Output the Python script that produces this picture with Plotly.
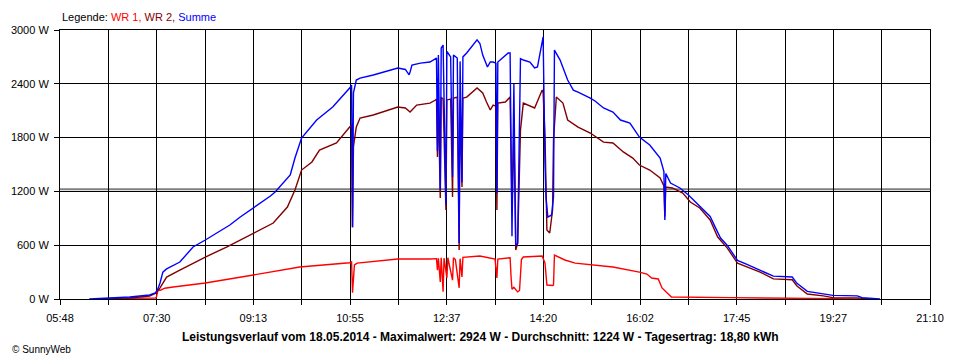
import plotly.graph_objects as go

# ---------------- data ----------------
x_tick_labels = ["05:48", "07:30", "09:13", "10:55", "12:37", "14:20", "16:02", "17:45", "19:27", "21:10"]
y_tick_values = [0, 600, 1200, 1800, 2400, 3000]
avg_power = 1224  # Durchschnitt

t_wr1 = ["06:57", "07:02", "07:29", "07:30", "07:31", "07:32", "07:34", "07:39", "07:48", "08:22",
         "09:13", "10:02", "10:55", "10:57", "10:58", "11:00", "11:03", "11:46", "12:20", "12:27",
         "12:28", "12:29", "12:31", "12:32", "12:34", "12:35", "12:38", "12:39", "12:44", "12:45",
         "12:47", "12:51", "12:52", "12:54", "12:55", "12:59", "13:13", "13:29", "13:31", "13:32",
         "13:43", "13:45", "13:46", "13:47", "13:49", "13:51", "13:53", "13:55", "13:57", "13:59",
         "14:19", "14:22", "14:24", "14:30", "14:31", "14:32", "14:43", "14:54", "15:15", "15:34",
         "16:02", "16:10", "16:15", "16:22", "16:26", "16:31", "16:36", "17:38", "18:55", "18:57",
         "19:56"]
p_wr1 = [0, 8, 10, 15, 60, 110, 95, 120, 134, 178,
         268, 357, 405, 415, 70, 380, 400, 446, 446, 450,
         320, 455, 190, 460, 80, 455, 235, 460, 210, 460,
         440, 125, 450, 245, 465, 470, 480, 446, 234, 446,
         457, 460, 250, 110, 130, 100, 80, 95, 440, 468,
         480, 400, 156, 150, 156, 490, 435, 400, 380, 357,
         300, 278, 234, 223, 123, 67, 22, 15, 11, 3,
         0]

t_wr2 = ["06:30", "07:02", "07:23", "07:30", "07:34", "07:41", "07:55", "08:09", "08:22", "08:45",
         "08:59", "09:13", "09:34", "09:49", "09:57", "10:04", "10:15", "10:23", "10:41", "10:55",
         "10:57", "10:58", "10:59", "11:02", "11:06", "11:20", "11:38", "11:46", "11:54", "11:59",
         "12:06", "12:20", "12:26", "12:27", "12:28", "12:29", "12:31", "12:32", "12:34", "12:37",
         "12:38", "12:42", "12:44", "12:45", "12:49", "12:51", "12:52", "12:54", "12:55", "12:59",
         "13:10", "13:16", "13:20", "13:24", "13:27", "13:30", "13:31", "13:32", "13:40", "13:45",
         "13:47", "13:49", "13:51", "13:53", "13:56", "13:59", "14:11", "14:19", "14:20", "14:22",
         "14:24", "14:27", "14:30", "14:31", "14:34", "14:41", "14:46", "14:57", "15:10", "15:15",
         "15:24", "15:34", "15:45", "15:55", "16:02", "16:13", "16:24", "16:28", "16:29", "16:30",
         "16:37", "16:48", "16:56", "17:06", "17:17", "17:25", "17:35", "17:46", "17:56", "18:10",
         "18:24", "18:44", "18:49", "19:00", "19:17", "19:27", "19:53", "20:06"]
p_wr2 = [0, 11, 33, 67, 123, 245, 323, 400, 468, 580,
         658, 736, 847, 1026, 1215, 1438, 1528, 1661, 1740, 1918,
         1940, 800, 1700, 1918, 2018, 2052, 2108, 2141, 2130, 2085,
         2163, 2185, 2219, 2230, 1584, 2200, 1126, 2250, 2230, 992,
         2220, 2230, 1137, 2240, 2250, 546, 2220, 1249, 2240, 2252,
         2353, 2297, 2197, 2108, 2163, 2150, 992, 2185, 2197, 2252,
         959, 1900, 546, 624, 1884, 2185, 2130, 2330, 2300, 1806,
         770, 736, 992, 1773, 2252, 2185, 1996, 1918, 1851, 1818,
         1750, 1740, 1640, 1572, 1494, 1438, 1349, 1260, 920, 1249,
         1238, 1182, 1082, 1015, 881, 691, 570, 400, 355, 300,
         225, 215, 145, 55, 35, 15, 12, 0]

t_sum = ["06:19", "06:39", "07:02", "07:23", "07:29", "07:32", "07:34", "07:37", "07:41", "07:55",
         "08:09", "08:22", "08:48", "08:59", "09:13", "09:31", "09:36", "09:49", "09:52", "09:57",
         "10:04", "10:20", "10:37", "10:55", "10:57", "10:58", "10:59", "11:02", "11:06", "11:20",
         "11:38", "11:46", "11:54", "11:58", "11:59", "12:01", "12:10", "12:20", "12:27", "12:28",
         "12:29", "12:31", "12:32", "12:34", "12:37", "12:38", "12:42", "12:44", "12:45", "12:49",
         "12:51", "12:52", "12:54", "12:55", "12:59", "13:10", "13:13", "13:16", "13:21", "13:24",
         "13:27", "13:30", "13:31", "13:32", "13:43", "13:45", "13:47", "13:49", "13:51", "13:53",
         "13:56", "13:59", "14:06", "14:11", "14:14", "14:20", "14:22", "14:23", "14:25", "14:29",
         "14:31", "14:32", "14:38", "14:46", "14:52", "14:57", "15:10", "15:15", "15:24", "15:34",
         "15:42", "15:52", "16:02", "16:13", "16:24", "16:28", "16:29", "16:30", "16:35", "16:45",
         "16:54", "17:06", "17:17", "17:22", "17:28", "17:35", "17:46", "17:56", "18:10", "18:24",
         "18:44", "18:49", "19:00", "19:17", "19:27", "19:53", "19:58", "20:17"]
p_sum = [0, 11, 22, 45, 67, 120, 178, 300, 335, 412,
         580, 658, 825, 914, 1015, 1148, 1193, 1349, 1383, 1572,
         1795, 1996, 2141, 2353, 2386, 800, 2300, 2442, 2464, 2498,
         2553, 2576, 2560, 2500, 2531, 2609, 2631, 2643, 2687, 1650,
         2720, 1215, 2800, 2832, 1050, 2760, 2700, 1360, 2720, 2687,
         624, 2650, 1300, 2700, 2743, 2890, 2850, 2720, 2587, 2643,
         2643, 2630, 1180, 2643, 2743, 2743, 700, 2400, 600, 620,
         2680, 2665, 2643, 2576, 2587, 2924, 1516, 1137, 914, 937,
         1137, 2776, 2665, 2442, 2330, 2308, 2241, 2208, 2130, 2085,
         1996, 1962, 1806, 1717, 1572, 1420, 880, 1400, 1293, 1238,
         1160, 1040, 920, 810, 680, 600, 430, 385, 320, 255,
         245, 175, 85, 60, 40, 35, 15, 0]


def to_min(s):
    h, m = s.split(":")
    return int(h) * 60 + int(m)


x_start = to_min(x_tick_labels[0])
x_end = to_min(x_tick_labels[-1])
n_grid = (len(x_tick_labels) - 1) * 2
tick_pos = [x_start + (x_end - x_start) * k / n_grid for k in range(n_grid + 1)]
tick_txt = [x_tick_labels[k // 2] if k % 2 == 0 else "" for k in range(n_grid + 1)]

fig = go.Figure()
fig.add_trace(go.Scatter(x=[to_min(t) for t in t_wr1], y=p_wr1, mode="lines",
                         line=dict(color="#FF0000", width=1.4), name="WR 1"))
fig.add_trace(go.Scatter(x=[to_min(t) for t in t_wr2], y=p_wr2, mode="lines",
                         line=dict(color="#800000", width=1.4), name="WR 2"))
fig.add_trace(go.Scatter(x=[to_min(t) for t in t_sum], y=p_sum, mode="lines",
                         line=dict(color="#0000FF", width=1.4), name="Summe"))

fig.add_shape(type="line", xref="paper", x0=0, x1=1, yref="y", y0=avg_power, y1=avg_power,
              line=dict(color="#808080", width=2), layer="between")

font_family = "Liberation Sans, Arial, sans-serif"

# page body has an 8px default margin: figure is sized/offset to compensate
fig.update_layout(
    width=952, height=352,
    margin=dict(l=52, r=30, t=22, b=61, autoexpand=False),
    paper_bgcolor="white", plot_bgcolor="white",
    showlegend=False, hovermode=False,
    font=dict(family=font_family, size=11, color="black"),
    xaxis=dict(range=[x_start, x_end], tickmode="array", tickvals=tick_pos, ticktext=tick_txt,
               showgrid=True, gridcolor="black", gridwidth=1,
               showline=True, linecolor="black", linewidth=1, mirror=True,
               ticks="outside", ticklen=5, tickcolor="black", tickwidth=1,
               ticklabelstandoff=4, automargin=False,
               zeroline=False, tickfont=dict(size=11)),
    yaxis=dict(range=[0, 3000], tickmode="array", tickvals=y_tick_values,
               ticktext=[f"{v} W" for v in y_tick_values],
               showgrid=True, gridcolor="black", gridwidth=1,
               showline=True, linecolor="black", linewidth=1, mirror=True,
               ticks="outside", ticklen=5, tickcolor="black", tickwidth=1,
               ticklabelstandoff=3, automargin=False,
               zeroline=False, tickfont=dict(size=11)),
)

fig.add_annotation(
    xref="paper", yref="paper", x=0.0, y=1.048, xanchor="left", yanchor="middle", showarrow=False,
    text=("Legende: <span style='color:#FF0000'>WR 1,</span> "
          "<span style='color:#800000'>WR 2,</span> "
          "<span style='color:#0000FF'>Summe</span>"),
    font=dict(size=11, color="black"))

fig.add_annotation(
    xref="paper", yref="paper", x=0.4835, y=-0.141, xanchor="center", yanchor="middle", showarrow=False,
    text="<b>Leistungsverlauf vom 18.05.2014 - Maximalwert: 2924 W - Durchschnitt: 1224 W - Tagesertrag: 18,80 kWh</b>",
    font=dict(size=12, color="black"))

fig.add_annotation(
    xref="paper", yref="paper", x=-0.058, y=-0.186, xanchor="left", yanchor="middle", showarrow=False,
    text="© SunnyWeb", font=dict(size=10, color="black"))

fig.write_html("out.html", config={"displayModeBar": False})
